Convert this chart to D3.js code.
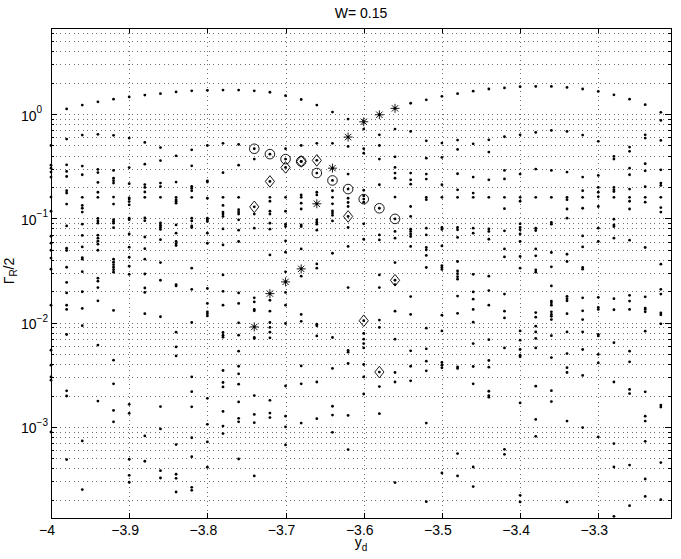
<!DOCTYPE html>
<html>
<head>
<meta charset="utf-8">
<script src="https://d3js.org/d3.v7.min.js"></script>
<style>
body { margin: 0; background: #fff; }
svg { font-family: "Liberation Sans", Arial, Helvetica, sans-serif; }
</style>
</head>
<body>
<svg width="681" height="559"></svg>
<script>
// y_d positions of the columns
var yd = [-4.00, -3.98, -3.96, -3.94, -3.92, -3.90, -3.88, -3.86, -3.84, -3.82,
          -3.80, -3.78, -3.76, -3.74, -3.72, -3.70, -3.68, -3.66, -3.64, -3.62,
          -3.60, -3.58, -3.56, -3.54, -3.52, -3.50, -3.48, -3.46, -3.44, -3.42,
          -3.40, -3.38, -3.36, -3.34, -3.32, -3.30, -3.28, -3.26, -3.24, -3.22];

// Gamma_R/2 values of each column (one list per y_d)
var gamma = [
  [0.50, 0.324, 0.303, 0.278, 0.249, 0.160, 0.117, 0.0674, 0.0579, 0.0495, 0.0416, 0.0326, 0.0147, 0.00545, 0.00391, 0.00302, 0.00281, 0.000895],
  [1.12, 0.576, 0.326, 0.282, 0.252, 0.184, 0.175, 0.137, 0.0847, 0.0518, 0.0492, 0.0340, 0.0243, 0.0193, 0.0147, 0.0134, 0.0077, 0.00222, 0.00198, 0.000487],
  [1.22, 0.629, 0.317, 0.262, 0.159, 0.133, 0.125, 0.115, 0.088, 0.0686, 0.0533, 0.0421, 0.0406, 0.0308, 0.0198, 0.0137, 0.00936, 0.000734, 0.000251],
  [1.31, 0.639, 0.295, 0.275, 0.221, 0.178, 0.159, 0.0998, 0.0946, 0.0900, 0.0690, 0.0646, 0.0604, 0.0566, 0.0495, 0.0267, 0.0250, 0.0217, 0.0162, 0.0061, 0.00177],
  [1.39, 0.625, 0.288, 0.243, 0.230, 0.218, 0.160, 0.137, 0.0972, 0.0934, 0.0900, 0.0814, 0.0406, 0.0380, 0.0360, 0.0340, 0.0322, 0.0305, 0.0131, 0.00437, 0.00259, 0.00144, 0.00112],
  [1.46, 0.589, 0.307, 0.215, 0.1575, 0.153, 0.145, 0.135, 0.1005, 0.0972, 0.0710, 0.0530, 0.0424, 0.0348, 0.0291, 0.00165, 0.00135, 0.000490, 0.000344, 0.000295],
  [1.52, 0.535, 0.331, 0.211, 0.198, 0.179, 0.159, 0.101, 0.0950, 0.0663, 0.0512, 0.0406, 0.0293, 0.0215, 0.0195, 0.0122, 0.000820, 0.000469],
  [1.57, 0.477, 0.358, 0.218, 0.202, 0.159, 0.0903, 0.0860, 0.0823, 0.0784, 0.0625, 0.0377, 0.0255, 0.0114, 0.00157, 0.000957, 0.000381, 0.000324],
  [1.63, 0.398, 0.223, 0.159, 0.151, 0.146, 0.140, 0.0866, 0.0721, 0.0600, 0.0570, 0.0549, 0.0232, 0.0225, 0.00810, 0.00586, 0.00480, 0.000678, 0.000352, 0.000322, 0.000238],
  [1.67, 0.454, 0.319, 0.203, 0.195, 0.184, 0.159, 0.1005, 0.0946, 0.0847, 0.0818, 0.0333, 0.0209, 0.01004, 0.00302, 0.00218, 0.00156, 0.000788, 0.000518, 0.000264, 0.000247],
  [1.69, 0.500, 0.229, 0.223, 0.156, 0.1005, 0.0968, 0.0934, 0.0721, 0.0579, 0.0213, 0.0153, 0.0127, 0.0122, 0.0116, 0.00188, 0.00106, 0.000718, 0.000411],
  [1.70, 0.524, 0.274, 0.159, 0.133, 0.115, 0.110, 0.1044, 0.0793, 0.0557, 0.0287, 0.0200, 0.0147, 0.00805, 0.00759, 0.00726, 0.00348, 0.00267, 0.00242, 0.00141, 0.00102, 0.000864],
  [1.70, 0.512, 0.324, 0.159, 0.121, 0.115, 0.110, 0.0968, 0.0770, 0.0600, 0.0193, 0.0153, 0.00996, 0.00759, 0.00533, 0.00382, 0.00323, 0.00257, 0.00174, 0.00121, 0.00112, 0.000493],
  [1.67, 0.370, 0.110, 0.0806, 0.0173, 0.0158, 0.0134, 0.0130, 0.00721, 0.00705, 0.00200, 0.00132, 0.00110, 0.000339],
  [1.62, 0.159, 0.146, 0.117, 0.110, 0.0900, 0.0788, 0.0446, 0.0164, 0.0129, 0.01004, 0.00900, 0.00810, 0.00715, 0.00180, 0.00136, 0.00123],
  [1.50, 0.465, 0.159, 0.117, 0.088, 0.0836, 0.0608, 0.0474, 0.0307, 0.0195, 0.0147, 0.00982, 0.00247, 0.00127, 0.00100, 0.000672],
  [1.38, 0.500, 0.168, 0.159, 0.140, 0.123, 0.0866, 0.0836, 0.0510, 0.0279, 0.0120, 0.0103, 0.00385, 0.00259, 0.00109],
  [1.22, 0.524, 0.178, 0.168, 0.0968, 0.0920, 0.088, 0.0770, 0.0366, 0.0333, 0.00968, 0.00932, 0.00747, 0.00270, 0.00120],
  [1.045, 0.524, 0.184, 0.159, 0.138, 0.118, 0.1125, 0.107, 0.0946, 0.0463, 0.00721, 0.00364, 0.00158, 0.00130, 0.000889],
  [0.895, 0.490, 0.266, 0.156, 0.142, 0.130, 0.0818, 0.0538, 0.0217, 0.00541, 0.00521, 0.00406, 0.00129, 0.000607],
  [0.718, 0.465, 0.422, 0.186, 0.164, 0.143, 0.0886, 0.0631, 0.00788, 0.00694, 0.00631, 0.00573, 0.00397, 0.00302, 0.00207],
  [0.633, 0.500, 0.370, 0.210, 0.0694, 0.0622, 0.0287, 0.0217, 0.0106, 0.00900, 0.00244, 0.00134],
  [0.718, 0.389, 0.308, 0.272, 0.243, 0.160, 0.0749, 0.0646, 0.0377, 0.0232, 0.0129, 0.00694, 0.00333, 0.00270, 0.000293],
  [1.27, 0.682, 0.272, 0.234, 0.213, 0.130, 0.1044, 0.0788, 0.0749, 0.0710, 0.0670, 0.0538, 0.0178, 0.0120, 0.00537, 0.00382, 0.00277],
  [1.37, 0.554, 0.378, 0.266, 0.238, 0.159, 0.151, 0.0806, 0.0694, 0.0526, 0.0499, 0.0441, 0.0338, 0.00886, 0.00561, 0.00427, 0.00345, 0.00109, 0.000192],
  [1.48, 0.527, 0.384, 0.210, 0.159, 0.0818, 0.0783, 0.0544, 0.0353, 0.0338, 0.0324, 0.0118, 0.00834, 0.00415, 0.00391, 0.00369, 0.000362],
  [1.57, 0.563, 0.458, 0.268, 0.188, 0.159, 0.0818, 0.0776, 0.0656, 0.0386, 0.0313, 0.0295, 0.0276, 0.0261, 0.0180, 0.0123, 0.00376, 0.00364, 0.000556, 0.000339],
  [1.66, 0.519, 0.249, 0.175, 0.159, 0.0806, 0.0721, 0.0291, 0.0197, 0.0168, 0.0134, 0.0101, 0.00631, 0.00380, 0.00259, 0.000413, 0.000268],
  [1.74, 0.567, 0.432, 0.234, 0.159, 0.0793, 0.0749, 0.0631, 0.0279, 0.0203, 0.0147, 0.00687, 0.00434, 0.00374, 0.00220, 0.00200, 0.00193],
  [1.78, 0.606, 0.288, 0.239, 0.159, 0.124, 0.0759, 0.0510, 0.0427, 0.0188, 0.0129, 0.0111, 0.00573, 0.000611, 0.000547],
  [1.83, 0.633, 0.266, 0.159, 0.146, 0.0886, 0.0818, 0.0776, 0.0710, 0.0600, 0.0431, 0.0333, 0.00834, 0.00679, 0.00553, 0.00488, 0.00470, 0.00170, 0.000221, 0.000191],
  [1.84, 0.667, 0.297, 0.159, 0.0806, 0.0765, 0.0510, 0.0437, 0.0321, 0.0305, 0.0125, 0.0113, 0.00926, 0.00816, 0.00707, 0.00573, 0.00246, 0.00118, 0.000814],
  [1.84, 0.697, 0.288, 0.159, 0.0913, 0.088, 0.0471, 0.0343, 0.0225, 0.0161, 0.0155, 0.0147, 0.0127, 0.0120, 0.0115, 0.0107, 0.00750, 0.00463, 0.00223, 0.00175],
  [1.80, 0.682, 0.278, 0.159, 0.151, 0.123, 0.1005, 0.0453, 0.0386, 0.0179, 0.0170, 0.0162, 0.0122, 0.00816, 0.00506, 0.00370, 0.00333, 0.00114, 0.000191],
  [1.74, 0.629, 0.249, 0.184, 0.159, 0.125, 0.0679, 0.0533, 0.0338, 0.0326, 0.0173, 0.0130, 0.0107, 0.00816, 0.00553, 0.00312, 0.000987],
  [1.65, 0.548, 0.258, 0.198, 0.178, 0.161, 0.130, 0.0806, 0.0600, 0.0175, 0.0140, 0.0134, 0.00772, 0.00747, 0.00496, 0.00411, 0.000802],
  [1.53, 0.393, 0.370, 0.198, 0.188, 0.181, 0.159, 0.0982, 0.0866, 0.0836, 0.0646, 0.0170, 0.0133, 0.00643, 0.00270, 0.000693, 0.000413, 0.000139],
  [1.39, 0.483, 0.439, 0.303, 0.262, 0.191, 0.159, 0.146, 0.123, 0.0618, 0.0183, 0.0161, 0.0134, 0.00533, 0.00421, 0.00229, 0.00209, 0.000431, 0.000176],
  [1.23, 0.633, 0.589, 0.334, 0.286, 0.201, 0.159, 0.143, 0.0526, 0.0177, 0.0138, 0.0134, 0.0127, 0.00829, 0.00217, 0.00127, 0.00114, 0.000729, 0.000317, 0.000216],
  [1.04, 0.870, 0.559, 0.292, 0.218, 0.207, 0.159, 0.127, 0.115, 0.0364, 0.0209, 0.0188, 0.0124, 0.0119, 0.00974, 0.00162, 0.00155, 0.000456, 0.000201]
];

// tracked resonances
var starYd = [-3.74, -3.72, -3.70, -3.68, -3.66, -3.64, -3.62, -3.60, -3.58, -3.56];
var starGamma = [0.0091, 0.0190, 0.0246, 0.0328, 0.138, 0.303, 0.602, 0.844, 0.985, 1.135];
var circleYd = [-3.74, -3.72, -3.70, -3.68, -3.66, -3.64, -3.62, -3.60, -3.58, -3.56];
var circleGamma = [0.465, 0.413, 0.370, 0.352, 0.272, 0.231, 0.191, 0.153, 0.125, 0.0989];
var diamondYd = [-3.74, -3.72, -3.70, -3.68, -3.66, -3.62, -3.60, -3.58, -3.56];
var diamondGamma = [0.129, 0.226, 0.308, 0.352, 0.360, 0.1044, 0.01044, 0.00336, 0.0255];

var xTicks = [-4, -3.9, -3.8, -3.7, -3.6, -3.5, -3.4, -3.3];
var yTicks = [1e-3, 1e-2, 1e-1, 1];
var yTickExp = ["\u22123", "\u22122", "\u22121", "0"];

var svg = d3.select("svg");
var plotLeft = 51, plotRight = 671, plotTop = 28, plotBottom = 518;

var x = d3.scaleLinear().domain([-4, -3.207]).range([plotLeft, plotRight]);
var y = d3.scaleLog().domain([1.34e-4, 6.69]).range([plotBottom, plotTop]);

// minor tick / grid positions of the log axis
var yMinor = [];
for (var e = -4; e <= 0; e++) {
    for (var m = 1; m <= 9; m++) {
	var v = m * Math.pow(10, e);
	if (v > y.domain()[0] && v < y.domain()[1]) yMinor.push(v);
    }
}

var grid = svg.append("g")
    .attr("stroke", "#6e6e6e")
    .attr("stroke-width", 1)
    .attr("stroke-dasharray", "1,3.5")
    .attr("shape-rendering", "crispEdges");

grid.selectAll(".gy").data(yMinor).enter().append("line")
    .attr("x1", plotLeft).attr("x2", plotRight)
    .attr("y1", function(d) { return Math.round(y(d)) + 0.5; })
    .attr("y2", function(d) { return Math.round(y(d)) + 0.5; });

grid.selectAll(".gx").data(xTicks.slice(1)).enter().append("line")
    .attr("y1", plotTop).attr("y2", plotBottom)
    .attr("x1", function(d) { return Math.round(x(d)) + 0.5; })
    .attr("x2", function(d) { return Math.round(x(d)) + 0.5; });

// all eigenvalue dots
var points = [];
yd.forEach(function(v, i) {
    gamma[i].forEach(function(g) { points.push([v, g]); });
});

svg.append("g").selectAll("circle").data(points).enter().append("circle")
    .attr("cx", function(d) { return x(d[0]); })
    .attr("cy", function(d) { return y(d[1]); })
    .attr("r", 1.4)
    .attr("fill", "#000");

var marks = svg.append("g").attr("fill", "none").attr("stroke", "#000").attr("stroke-width", 0.9);

function markDot(px, py) {
    svg.append("circle").attr("cx", px).attr("cy", py).attr("r", 1.4).attr("fill", "#000");
}

circleYd.forEach(function(v, i) {
    var px = x(v), py = y(circleGamma[i]);
    marks.append("circle").attr("cx", px).attr("cy", py).attr("r", 4.8);
    markDot(px, py);
});

diamondYd.forEach(function(v, i) {
    var px = x(v), py = y(diamondGamma[i]);
    marks.append("path")
	.attr("d", "M" + px + "," + (py - 5.8) + "L" + (px + 4.6) + "," + py +
	      "L" + px + "," + (py + 5.8) + "L" + (px - 4.6) + "," + py + "Z");
    markDot(px, py);
});

starYd.forEach(function(v, i) {
    var px = x(v), py = y(starGamma[i]);
    var r = 4.5, s = 3.2;
    marks.append("path")
	.attr("d", "M" + (px - r) + "," + py + "H" + (px + r) +
	      "M" + px + "," + (py - r) + "V" + (py + r) +
	      "M" + (px - s) + "," + (py - s) + "L" + (px + s) + "," + (py + s) +
	      "M" + (px - s) + "," + (py + s) + "L" + (px + s) + "," + (py - s));
    markDot(px, py);
});

// axes with inward ticks, MATLAB style box
function styleAxis(g) {
    g.selectAll("path").attr("stroke", "#000").attr("shape-rendering", "crispEdges");
    g.selectAll("line").attr("stroke", "#000").attr("shape-rendering", "crispEdges");
}

var gx = svg.append("g")
    .attr("transform", "translate(0," + plotBottom + ")")
    .call(d3.axisBottom(x).tickValues(xTicks).tickFormat(d3.format("~g"))
	  .tickSizeInner(-5).tickSizeOuter(0).tickPadding(7))
    .call(styleAxis);
gx.selectAll("text").attr("x", -4.5).attr("font-size", 14)
    .attr("font-family", "Liberation Sans, Arial, sans-serif").attr("fill", "#000");

svg.append("g")
    .attr("transform", "translate(0," + plotTop + ")")
    .call(d3.axisTop(x).tickValues(xTicks).tickFormat("").tickSizeInner(-5).tickSizeOuter(0))
    .call(styleAxis);

svg.append("g")
    .attr("transform", "translate(" + plotLeft + ",0)")
    .call(d3.axisLeft(y).tickValues(yTicks).tickFormat("").tickSizeInner(-6).tickSizeOuter(0))
    .call(styleAxis);

svg.append("g")
    .attr("transform", "translate(" + plotLeft + ",0)")
    .call(d3.axisLeft(y).tickValues(yMinor).tickFormat("").tickSizeInner(-3).tickSizeOuter(0))
    .call(styleAxis)
    .select(".domain").remove();

svg.append("g")
    .attr("transform", "translate(" + plotRight + ",0)")
    .call(d3.axisRight(y).tickValues(yTicks).tickFormat("").tickSizeInner(-6).tickSizeOuter(0))
    .call(styleAxis);

svg.append("g")
    .attr("transform", "translate(" + plotRight + ",0)")
    .call(d3.axisRight(y).tickValues(yMinor).tickFormat("").tickSizeInner(-3).tickSizeOuter(0))
    .call(styleAxis)
    .select(".domain").remove();

// 10^n labels
yTicks.forEach(function(t, i) {
    var lab = svg.append("text")
	.attr("x", 21).attr("y", y(t) + 6.5)
	.attr("font-size", 14).attr("fill", "#000")
	.text("10");
    lab.append("tspan").attr("font-size", 10).attr("dy", -7.5).text(yTickExp[i]);
});

svg.append("text")
    .attr("x", (plotLeft + plotRight) / 2).attr("y", 18)
    .attr("text-anchor", "middle").attr("font-size", 14)
    .text("W= 0.15");

var xl = svg.append("text")
    .attr("x", 361).attr("y", 547)
    .attr("text-anchor", "middle").attr("font-size", 14)
    .text("y");
xl.append("tspan").attr("font-size", 10).attr("dy", 4).text("d");

var yl = svg.append("text")
    .attr("transform", "translate(14,271) rotate(-90)")
    .attr("text-anchor", "middle").attr("font-size", 14)
    .text("\u0393");
yl.append("tspan").attr("font-size", 10).attr("dy", 3).text("R");
yl.append("tspan").attr("dy", -3).text("/2");
</script>
</body>
</html>
